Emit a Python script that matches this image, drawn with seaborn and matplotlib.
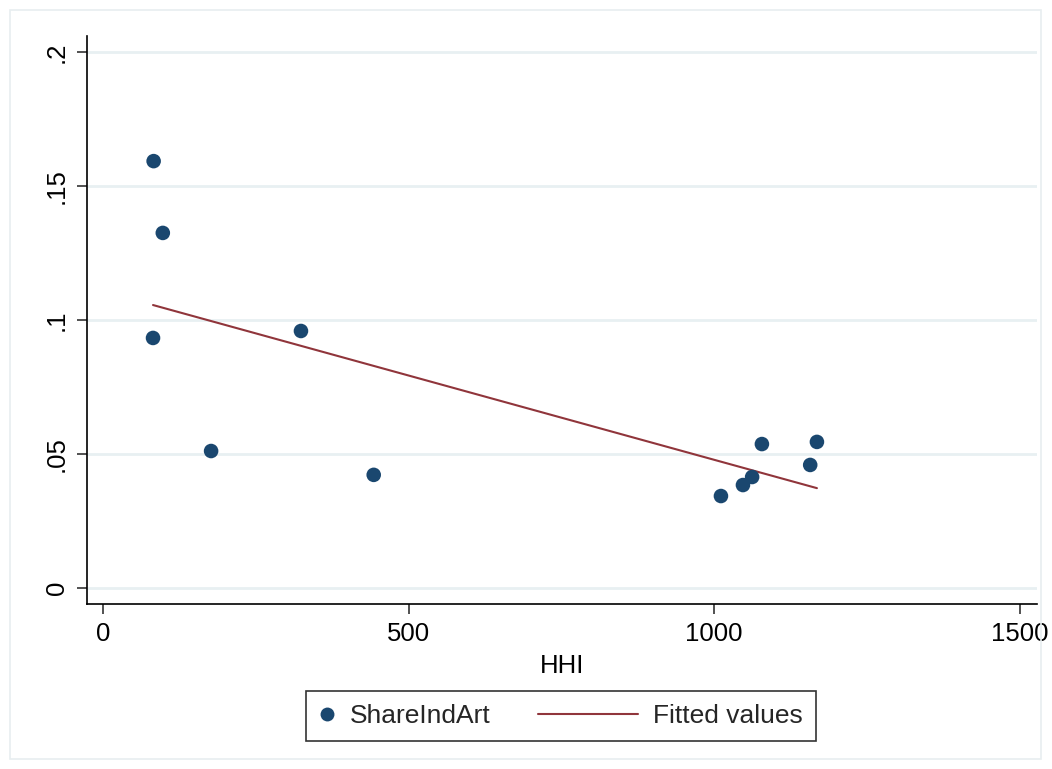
import matplotlib
matplotlib.use("Agg")
import matplotlib.pyplot as plt
import seaborn as sns
import pandas as pd
from matplotlib.patches import Rectangle
from matplotlib.lines import Line2D

hhi = [83, 98, 82, 177, 324, 443, 1011, 1047, 1062, 1078, 1157, 1168]
share = [0.1593, 0.1325, 0.0933, 0.0511, 0.0959, 0.0422, 0.0343, 0.0384, 0.0414, 0.0537, 0.0459, 0.0545]
xticks = [0, 500, 1000, 1500]
yticks = [0, 0.05, 0.1, 0.15, 0.2]
yticklabels = ["0", ".05", ".1", ".15", ".2"]

df = pd.DataFrame({"HHI": hhi, "ShareIndArt": share})

sns.set_theme(style="white")
plt.rcParams["font.family"] = ["Liberation Sans", "DejaVu Sans"]

navy = "#1a476f"
maroon = "#90353b"
grid = "#e8f0f2"

fig = plt.figure(figsize=(10.52, 7.69), dpi=100)
fig.patch.set_facecolor("white")
fig.patches.append(Rectangle((10 / 1052, 10 / 769), 1031 / 1052, 749 / 769,
                             transform=fig.transFigure, fill=False,
                             edgecolor="#e8eef0", linewidth=1.2))

ax = fig.add_axes([87 / 1052, 165 / 769, 950 / 1052, 568 / 769])
ax.set_facecolor("white")

for yt in yticks:
    ax.axhline(yt, color=grid, linewidth=2, zorder=0)

sns.regplot(data=df, x="HHI", y="ShareIndArt", scatter=False, ci=None,
            color=maroon, line_kws={"linewidth": 1.5}, ax=ax)
sns.scatterplot(data=df, x="HHI", y="ShareIndArt", color=navy, s=110,
                edgecolor="none", ax=ax, zorder=3)

ax.set_xlim(-26, 1528)
ax.set_ylim(-0.006, 0.206)
ax.set_xticks(xticks)
ax.set_xticklabels([str(v) for v in xticks])
ax.set_yticks(yticks)
ax.set_yticklabels(yticklabels, rotation=90, va="center")

for s in ["top", "right"]:
    ax.spines[s].set_visible(False)
for s in ["left", "bottom"]:
    ax.spines[s].set_color("black")
    ax.spines[s].set_linewidth(1.2)

ax.tick_params(axis="both", which="major", direction="out", length=7, width=1.2,
               color="#333333", labelsize=18.5, labelcolor="black", pad=6,
               left=True, bottom=True)
ax.set_xlabel("HHI", fontsize=18.5, color="black", labelpad=6)
ax.set_ylabel("")


class LongLineHandler:
    def __init__(self, ext):
        self.ext = ext

    def legend_artist(self, legend, orig_handle, fontsize, handlebox):
        x0, y0 = -handlebox.xdescent, -handlebox.ydescent
        w, h = handlebox.width, handlebox.height
        line = Line2D([x0 - self.ext * fontsize, x0 + w], [y0 + h / 2] * 2,
                      color=orig_handle.get_color(),
                      linewidth=orig_handle.get_linewidth())
        handlebox.add_artist(line)
        return line


h_dot = Line2D([0], [0], marker="o", linestyle="none", markersize=10,
               markerfacecolor=navy, markeredgecolor="none")
h_line = Line2D([0], [0], color=maroon, linewidth=1.5)
leg = fig.legend([h_dot, h_line], ["ShareIndArt", "Fitted values"], loc="center",
                 bbox_to_anchor=(561 / 1052, 53 / 769), ncol=2, fontsize=19,
                 frameon=True, fancybox=False, edgecolor="black",
                 handlelength=0.6, columnspacing=5.0, handletextpad=0.57,
                 borderpad=0.5, borderaxespad=0,
                 handler_map={h_line: LongLineHandler(3.2)})
leg.get_frame().set_linewidth(1.2)
leg.get_frame().set_facecolor("white")

fig.savefig("out.png", dpi=100, facecolor="white")
